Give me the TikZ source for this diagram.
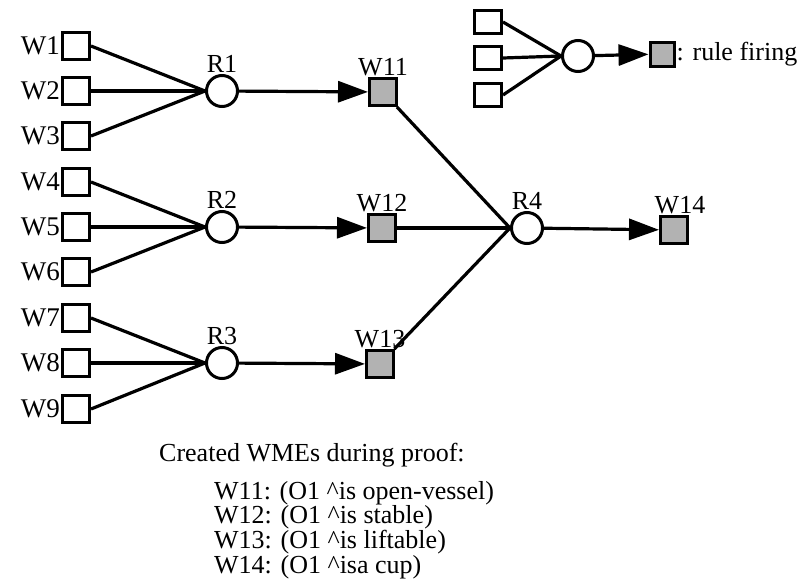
\documentclass[tikz,border=0pt]{standalone}
\usepackage{fontspec}
\setmainfont{Liberation Serif}
\usetikzlibrary{arrows.meta}
\tikzset{
 link/.style={line width=3.2pt},
 firelink/.style={line width=3.2pt,-{Triangle[length=30pt,width=21pt]}},
 wme/.style={rectangle,draw,line width=3pt,fill=white,minimum size=27pt,inner sep=0},
 newwme/.style={wme,fill=black!30},
 smallwme/.style={wme,minimum width=27pt,minimum height=23pt},
 rule/.style={circle,draw,line width=3pt,fill=white,minimum size=31pt,inner sep=0},
 lbl/.style={font=\fontsize{26}{30}\selectfont,inner sep=1pt}
}

\begin{document}
\begin{tikzpicture}[x=1pt,y=-1pt]
\path[use as bounding box] (0,0) rectangle (809,584);
% working memory elements
\node[wme] (w1) at (76,46) {};
\node[wme] (w2) at (76,91) {};
\node[wme] (w3) at (76,136) {};
\node[wme] (w4) at (76,182) {};
\node[wme] (w5) at (76,227) {};
\node[wme] (w6) at (76,272) {};
\node[wme] (w7) at (76,318) {};
\node[wme] (w8) at (76,363) {};
\node[wme] (w9) at (76,409) {};
\node[lbl,anchor=east,font=\fontsize{27}{30}\selectfont] (w1t) at (w1.west) {W1};
\node[lbl,anchor=east,font=\fontsize{27}{30}\selectfont] (w2t) at (w2.west) {W2};
\node[lbl,anchor=east,font=\fontsize{27}{30}\selectfont] (w3t) at (w3.west) {W3};
\node[lbl,anchor=east,font=\fontsize{27}{30}\selectfont] (w4t) at (w4.west) {W4};
\node[lbl,anchor=east,font=\fontsize{27}{30}\selectfont] (w5t) at (w5.west) {W5};
\node[lbl,anchor=east,font=\fontsize{27}{30}\selectfont] (w6t) at (w6.west) {W6};
\node[lbl,anchor=east,font=\fontsize{27}{30}\selectfont] (w7t) at (w7.west) {W7};
\node[lbl,anchor=east,font=\fontsize{27}{30}\selectfont] (w8t) at (w8.west) {W8};
\node[lbl,anchor=east,font=\fontsize{27}{30}\selectfont] (w9t) at (w9.west) {W9};
% rules
\node[rule] (r1) at (222,91) {};
\node[rule] (r2) at (222,227) {};
\node[rule] (r3) at (222,363) {};
\node[rule] (r4) at (527,228) {};
\node[lbl,anchor=south] (r1t) at (r1.north) {R1};
\node[lbl,anchor=south] (r2t) at (r2.north) {R2};
\node[lbl,anchor=south] (r3t) at (r3.north) {R3};
\node[lbl,anchor=south] (r4t) at (r4.north) {R4};
% created elements
\node[newwme] (w11) at (383,92) {};
\node[newwme] (w12) at (382,228) {};
\node[newwme] (w13) at (380,364) {};
\node[newwme] (w14) at (674,230) {};
\node[lbl,anchor=south] (w11t) at (w11.north) {W11};
\node[lbl,anchor=south] (w12t) at (w12.north) {W12};
\node[lbl,anchor=south] (w13t) at (w13.north) {W13};
\node[lbl,anchor=south,xshift=6pt] (w14t) at (w14.north) {W14};
\draw[link] (w1.east) -- (r1.west);
\draw[link] (w2.east) -- (r1.west);
\draw[link] (w3.east) -- (r1.west);
\draw[link] (w4.east) -- (r2.west);
\draw[link] (w5.east) -- (r2.west);
\draw[link] (w6.east) -- (r2.west);
\draw[link] (w7.east) -- (r3.west);
\draw[link] (w8.east) -- (r3.west);
\draw[link] (w9.east) -- (r3.west);
\draw[firelink] (r1) -- (w11);
\draw[firelink] (r2) -- (w12);
\draw[firelink] (r3) -- (w13);
\draw[link] (w11) -- (r4.west);
\draw[link] (w12) -- (r4.west);
\draw[link] (w13) -- (r4.west);
\draw[firelink] (r4) -- (w14);
% legend
\node[smallwme] (k1) at (488,22) {};
\node[smallwme] (k2) at (488,58) {};
\node[smallwme] (k3) at (488,95) {};
\node[rule] (kr) at (578,56) {};
\node[newwme,minimum size=24pt] (kf) at (662,54) {};
\draw[link] (k1.east) -- (kr.west);
\draw[link] (k2.east) -- (kr.west);
\draw[link] (k3.east) -- (kr.west);
\draw[firelink] (kr) -- (kf);
\node[lbl,anchor=west] (kt) at (kf.east) {: rule firing};
% created list
\node[lbl,anchor=west] (cap) at (158,455) {Created WMEs during proof:};
\node[lbl,anchor=north west,align=left,font=\fontsize{26}{24.6}\selectfont] (list) at (213,480)
 {W11: (O1 \textasciicircum is open-vessel)\\
  W12: (O1 \textasciicircum is stable)\\
  W13: (O1 \textasciicircum is liftable)\\
  W14: (O1 \textasciicircum isa cup)};
\end{tikzpicture}
\end{document}
